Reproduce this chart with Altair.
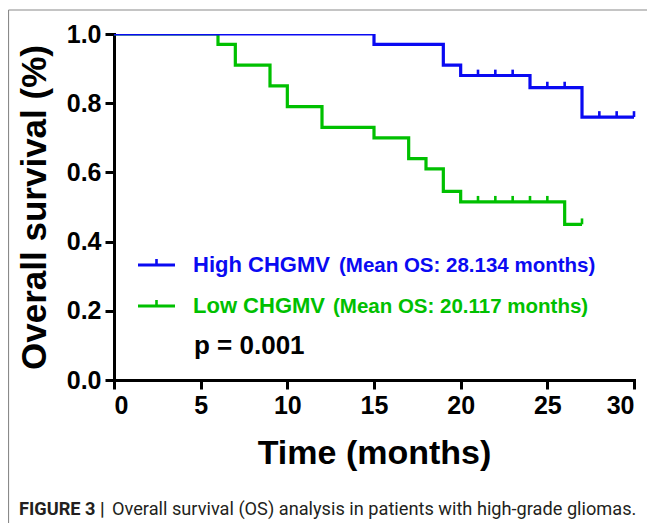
import altair as alt
import pandas as pd

# ---- data ----
high_t = [0, 15, 19, 20, 24, 27, 30]
high_s = [1.0, 0.97, 0.91, 0.88, 0.845, 0.76, 0.76]
high_cens_t = [21, 22, 23, 25, 26, 28, 29, 30]
high_cens_s = [0.88, 0.88, 0.88, 0.845, 0.845, 0.76, 0.76, 0.76]

low_t = [0, 6, 7, 9, 10, 12, 15, 17, 18, 19, 20, 26, 27]
low_s = [1.0, 0.97, 0.91, 0.85, 0.79, 0.73, 0.70, 0.64, 0.61, 0.545, 0.515, 0.45, 0.45]
low_cens_t = [21, 22, 23, 24, 25, 27]
low_cens_s = [0.515, 0.515, 0.515, 0.515, 0.515, 0.45]

x_ticks = [0, 5, 10, 15, 20, 25, 30]
y_ticks = [0.0, 0.2, 0.4, 0.6, 0.8, 1.0]

legend_names = ["High CHGMV", "Low CHGMV"]
legend_means = ["(Mean OS: 28.134 months)", "(Mean OS: 20.117 months)"]
p_text = "p = 0.001"
caption_bold = "FIGURE 3 |"
caption_rest = "Overall survival (OS) analysis in patients with high-grade gliomas."

BLUE = "#0a0af2"
GREEN = "#00c000"
FONT = "Liberation Sans, Arial, Helvetica, sans-serif"
CAPFONT = "Roboto, Liberation Sans, sans-serif"
W, H = 520, 346

high = pd.DataFrame({"t": high_t, "s": high_s})
low = pd.DataFrame({"t": low_t, "s": low_s})
high_c = pd.DataFrame({"t": high_cens_t, "s": high_cens_s})
low_c = pd.DataFrame({"t": low_cens_t, "s": low_cens_s})

xs = alt.Scale(domain=[0, 30], nice=False)
ys = alt.Scale(domain=[0, 1], nice=False)
xax = alt.Axis(values=x_ticks, title="Time (months)", titlePadding=18)
yax = alt.Axis(values=y_ticks, format=".1f", title="Overall survival (%)",
               titlePadding=14, titleFontSize=35)


def step(df, col):
    return alt.Chart(df).mark_line(
        interpolate="step-after", strokeWidth=3.2, color=col, clip=True
    ).encode(x=alt.X("t:Q", scale=xs, axis=xax), y=alt.Y("s:Q", scale=ys, axis=yax))


def cens(df, col):
    return alt.Chart(df).transform_calculate(s2="datum.s + 0.017").mark_rule(
        strokeWidth=2.6, color=col
    ).encode(x=alt.X("t:Q", scale=xs), y=alt.Y("s:Q", scale=ys), y2="s2:Q")


one = alt.Data(values=[{"a": 1}])


def txt(text, x, y, size, color, weight="bold", font=FONT, baseline="alphabetic"):
    return alt.Chart(one).mark_text(
        text=text, fontSize=size, fontWeight=weight, font=font, color=color,
        align="left", baseline=baseline
    ).encode(x=alt.value(x), y=alt.value(y))


def seg(x1, x2, y1, y2, col, w):
    return alt.Chart(one).mark_rule(color=col, strokeWidth=w).encode(
        x=alt.value(x1), x2=alt.value(x2), y=alt.value(y1), y2=alt.value(y2)
    )


layers = [
    step(low, GREEN), cens(low_c, GREEN),
    step(high, BLUE), cens(high_c, BLUE),
    # legend
    seg(24, 61, 231, 231, BLUE, 3.2), seg(42.5, 42.5, 225, 231, BLUE, 2.6),
    txt(legend_names[0], 79, 238, 22, BLUE),
    txt(legend_means[0], 225, 238, 20.5, BLUE),
    seg(24, 61, 272, 272, GREEN, 3.2), seg(42.5, 42.5, 266, 272, GREEN, 2.6),
    txt(legend_names[1], 79, 279, 22, GREEN),
    txt(legend_means[1], 219, 279, 20.5, GREEN),
    txt(p_text, 80, 320, 26, "black"),
    # frame
    seg(-105.5, 540, -24, -24, "#8a8a8a", 1.2),
    seg(-105.5, -105.5, -24, 500, "#8a8a8a", 1.2),
    # caption
    txt(caption_bold, -95, 481, 18.2, "#231f20", font=CAPFONT),
    txt(caption_rest, -2, 481, 18.2, "#231f20", weight="normal", font=CAPFONT),
]

chart = alt.layer(*layers).properties(
    width=W, height=H,
    autosize=alt.AutoSizeParams(type="none"),
    padding={"left": 106, "top": 26, "right": 13, "bottom": 143},
).configure_view(stroke=None).configure_axis(
    grid=False, domainColor="black", domainWidth=3, tickColor="black", tickWidth=3,
    tickSize=9, labelFont=FONT, labelFontWeight="bold", labelFontSize=25,
    labelColor="black", labelPadding=4, titleFont=FONT, titleFontWeight="bold",
    titleFontSize=34, titleColor="black", domainCap="square"
)

chart.save("out.html", embed_options={"renderer": "svg", "actions": False})
